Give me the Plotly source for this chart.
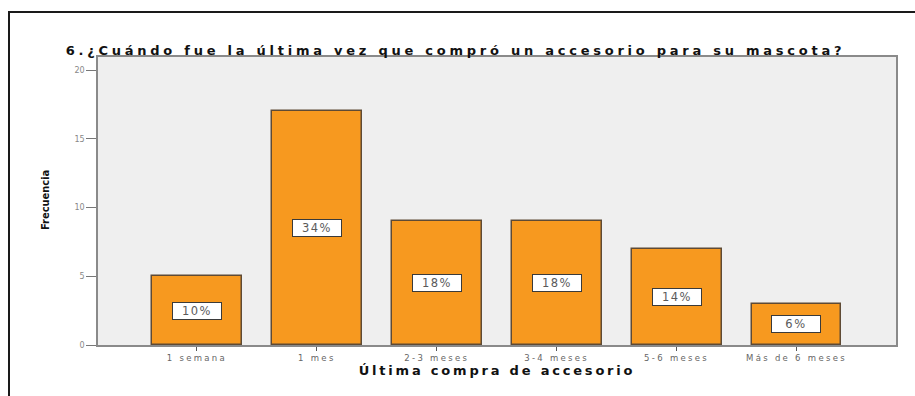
import plotly.graph_objects as go

# Survey answers: time since last accessory purchase
categories = ["1 semana", "1 mes", "2-3 meses", "3-4 meses", "5-6 meses", "Más de 6 meses"]
frequencies = [5, 17, 9, 9, 7, 3]
percent_labels = ["10%", "34%", "18%", "18%", "14%", "6%"]
y_ticks = [0, 5, 10, 15, 20]

title_text = "6.¿Cuándo fue la última vez que compró un accesorio para su mascota?"
x_title = "Última compra de accesorio"
y_title = "Frecuencia"

W, H = 915, 396
ML, MR, MT, MB = 98, 19, 57, 51
PW, PH = W - ML - MR, H - MT - MB

xpos = list(range(len(categories)))

fig = go.Figure()
fig.add_trace(go.Bar(
    x=xpos,
    y=frequencies,
    width=0.75,
    marker=dict(color="#F7991F", line=dict(color="#5e4a35", width=1.5)),
    hoverinfo="skip",
))

annotations = []
for xi, v, lab in zip(xpos, frequencies, percent_labels):
    annotations.append(dict(
        x=xi, y=v / 2, xref="x", yref="y", text=lab, showarrow=False,
        font=dict(family="DejaVu Sans", size=11.5, color="#5a5a5a"),
        bgcolor="white", bordercolor="#3a3a3a", borderwidth=1,
        borderpad=1, width=46, height=14,
    ))

# rotated y-axis title
annotations.append(dict(
    x=(45 - ML) / PW, y=(H - MB - 200) / PH, xref="paper", yref="paper",
    text=f"<b>{y_title}</b>", showarrow=False, textangle=-90,
    font=dict(family="Liberation Sans Narrow, DejaVu Sans Condensed, Arial Narrow", size=11, color="#111"),
    xanchor="center", yanchor="middle",
))

# outer frame (left and top edges)
px = lambda p: (p - ML) / PW
py = lambda p: (H - MB - p) / PH
frame = dict(
    type="path", xref="paper", yref="paper",
    path=f"M {px(9)} {py(420)} L {px(9)} {py(12)} L {px(940)} {py(12)}",
    line=dict(color="#1a1a1a", width=2),
)

fig.update_layout(
    width=W, height=H,
    margin=dict(l=ML, r=MR, t=MT, b=MB),
    paper_bgcolor="white",
    plot_bgcolor="#EFEFEF",
    showlegend=False,
    bargap=0,
    title=dict(
        text=f"<b>{title_text}</b>",
        x=(455.5 - ML) / PW, xref="paper", xanchor="center",
        y=1 - 50 / H, yref="container", yanchor="middle",
        font=dict(family="DejaVu Sans", size=13, color="#111"),
    ),
    xaxis=dict(
        range=[-0.825, 5.83],
        tickvals=xpos, ticktext=categories,
        ticks="outside", ticklen=4, tickcolor="#555", tickwidth=1,
        tickfont=dict(family="DejaVu Sans", size=8.5, color="#666"),
        showline=True, linecolor="#8a8a8a", linewidth=1.5, mirror=True,
        showgrid=False, zeroline=False,
        title=dict(text=f"<b>{x_title}</b>", standoff=3,
                   font=dict(family="DejaVu Sans", size=13, color="#111")),
    ),
    yaxis=dict(
        range=[0, 20.95],
        tickvals=y_ticks,
        ticks="outside", ticklen=10, tickcolor="#777", tickwidth=1,
        tickfont=dict(family="DejaVu Sans", size=8, color="#888"),
        showline=True, linecolor="#8a8a8a", linewidth=1.5, mirror=True,
        showgrid=False, zeroline=False,
    ),
    annotations=annotations,
    shapes=[frame],
)

# widen the letter spacing of the titles, tick labels and value boxes
post = """
document.querySelectorAll('.gtitle').forEach(function(e){e.style.letterSpacing='3.75px';});
document.querySelectorAll('.xtitle').forEach(function(e){e.style.letterSpacing='2.8px';});
document.querySelectorAll('.xtick text').forEach(function(e){e.style.letterSpacing='2.3px';});
document.querySelectorAll('.annotation-text').forEach(function(e){
  if(e.textContent.indexOf('%')>=0) e.style.letterSpacing='1.5px';
});
"""

fig.write_html("out.html", post_script=post)
